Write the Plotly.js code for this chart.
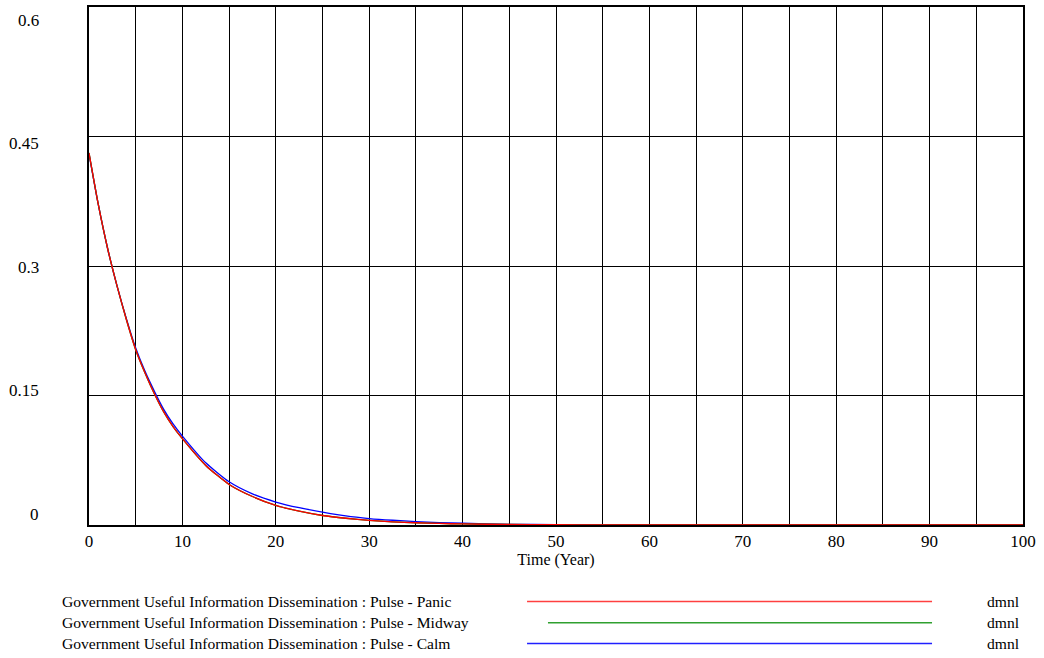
<!DOCTYPE html>
<html>
<head>
<meta charset="utf-8">
<script src="https://cdn.plot.ly/plotly-3.0.1.min.js"></script>
<style>html,body{margin:0;padding:0;background:#fff;}#chart{width:1044px;height:658px;}</style>
</head>
<body>
<div id="chart"></div>
<script>
// Data
const time = [0, 1, 2, 3, 4, 5, 6, 7, 8, 9, 10, 12.5, 15, 17.5, 20, 22.5, 25, 27.5, 30, 32.5, 35, 37.5, 40, 45, 50, 55, 60, 65, 70, 75, 80, 85, 90, 95, 100];
const panic = [0.431, 0.371, 0.320, 0.277, 0.238, 0.203, 0.176, 0.152, 0.131, 0.114, 0.100, 0.069, 0.047, 0.033, 0.0227, 0.016, 0.011, 0.0078, 0.0054, 0.0037, 0.0026, 0.0018, 0.0012, 0.0006, 0.0003, 0.0002, 0.0001, 0.0001, 0, 0, 0, 0, 0, 0, 0];
const midway = [0.431, 0.371, 0.320, 0.277, 0.238, 0.203, 0.176, 0.152, 0.131, 0.114, 0.100, 0.069, 0.047, 0.033, 0.0227, 0.016, 0.011, 0.0078, 0.0054, 0.0037, 0.0026, 0.0018, 0.0012, 0.0006, 0.0003, 0.0002, 0.0001, 0.0001, 0, 0, 0, 0, 0, 0, 0];
const calm = [0.430, 0.371, 0.320, 0.277, 0.239, 0.205, 0.178, 0.155, 0.134, 0.117, 0.103, 0.072, 0.050, 0.036, 0.0266, 0.020, 0.0150, 0.0105, 0.0075, 0.0055, 0.004, 0.0028, 0.002, 0.0008, 0.0004, 0.0002, 0.0001, 0.0001, 0, 0, 0, 0, 0, 0, 0];

const seriesNames = [
  "Government Useful Information Dissemination : Pulse - Panic",
  "Government Useful Information Dissemination : Pulse - Midway",
  "Government Useful Information Dissemination : Pulse - Calm"
];
const seriesUnits = ["dmnl", "dmnl", "dmnl"];
const seriesColors = ["#ff0000", "#008000", "#0000ff"];
const legendColors = ["#ff4040", "#30a030", "#2020ff"];

const xTickVals = [0, 10, 20, 30, 40, 50, 60, 70, 80, 90, 100];
const yTickVals = [0, 0.15, 0.3, 0.45, 0.6];
const yTickText = ["0", "0.15", "0.3", "0.45", "0.6"];

const FONT = "Liberation Serif, Times New Roman, serif";

const traces = [
  {x: time, y: calm, name: seriesNames[2], mode: "lines", line: {color: seriesColors[2], width: 1.3, shape: "spline", smoothing: 0.6}},
  {x: time, y: midway, name: seriesNames[1], mode: "lines", line: {color: seriesColors[1], width: 1.3, shape: "spline", smoothing: 0.6}},
  {x: time, y: panic, name: seriesNames[0], mode: "lines", line: {color: seriesColors[0], width: 1.3, shape: "spline", smoothing: 0.6}}
];

// y tick labels (spread like the source software does)
const annotations = yTickVals.map((v, i) => ({
  xref: "paper", yref: "y", x: -0.051, y: 0.0125 + v * 0.953,
  text: yTickText[i], showarrow: false, xanchor: "right", yanchor: "middle",
  font: {family: FONT, size: 17, color: "#000"}
}));

// custom legend
const legY = [-0.1477, -0.1885, -0.2289];
const legLineStart = [0.469, 0.4914, 0.469];
const shapes = [];
seriesNames.forEach((n, i) => {
  annotations.push({xref: "paper", yref: "paper", x: -0.031, y: legY[i], text: n, showarrow: false,
    xanchor: "left", yanchor: "middle", font: {family: FONT, size: 15.6, color: "#000"}});
  annotations.push({xref: "paper", yref: "paper", x: 0.9593, y: legY[i], text: seriesUnits[i], showarrow: false,
    xanchor: "left", yanchor: "middle", font: {family: FONT, size: 15.6, color: "#000"}});
  shapes.push({type: "line", xref: "paper", yref: "paper", x0: legLineStart[i], x1: 0.9026, y0: legY[i], y1: legY[i],
    line: {color: legendColors[i], width: 1.5}});
});

const layout = {
  width: 1044, height: 658,
  margin: {l: 89, r: 21, t: 7, b: 133, pad: 0},
  paper_bgcolor: "#fff", plot_bgcolor: "#fff",
  showlegend: false,
  font: {family: FONT, size: 17, color: "#000"},
  xaxis: {
    range: [0, 100], tickvals: xTickVals, ticks: "", showgrid: true, gridcolor: "#000", gridwidth: 1,
    minor: {dtick: 5, tick0: 0, showgrid: true, gridcolor: "#000", gridwidth: 1},
    showline: true, linecolor: "#000", linewidth: 2, mirror: true, zeroline: false,
    tickfont: {family: FONT, size: 17, color: "#000"}, ticklabelstandoff: 0,
    title: {text: "Time (Year)", font: {family: FONT, size: 16, color: "#000"}, standoff: 2},
    automargin: false, fixedrange: true
  },
  yaxis: {
    range: [0, 0.6], tickvals: yTickVals, showticklabels: false, ticks: "", showgrid: true, gridcolor: "#000", gridwidth: 1,
    showline: true, linecolor: "#000", linewidth: 2, mirror: true, zeroline: false,
    automargin: false, fixedrange: true
  },
  annotations: annotations,
  shapes: shapes
};

Plotly.newPlot("chart", traces, layout, {displayModeBar: false, staticPlot: true});
</script>
</body>
</html>
